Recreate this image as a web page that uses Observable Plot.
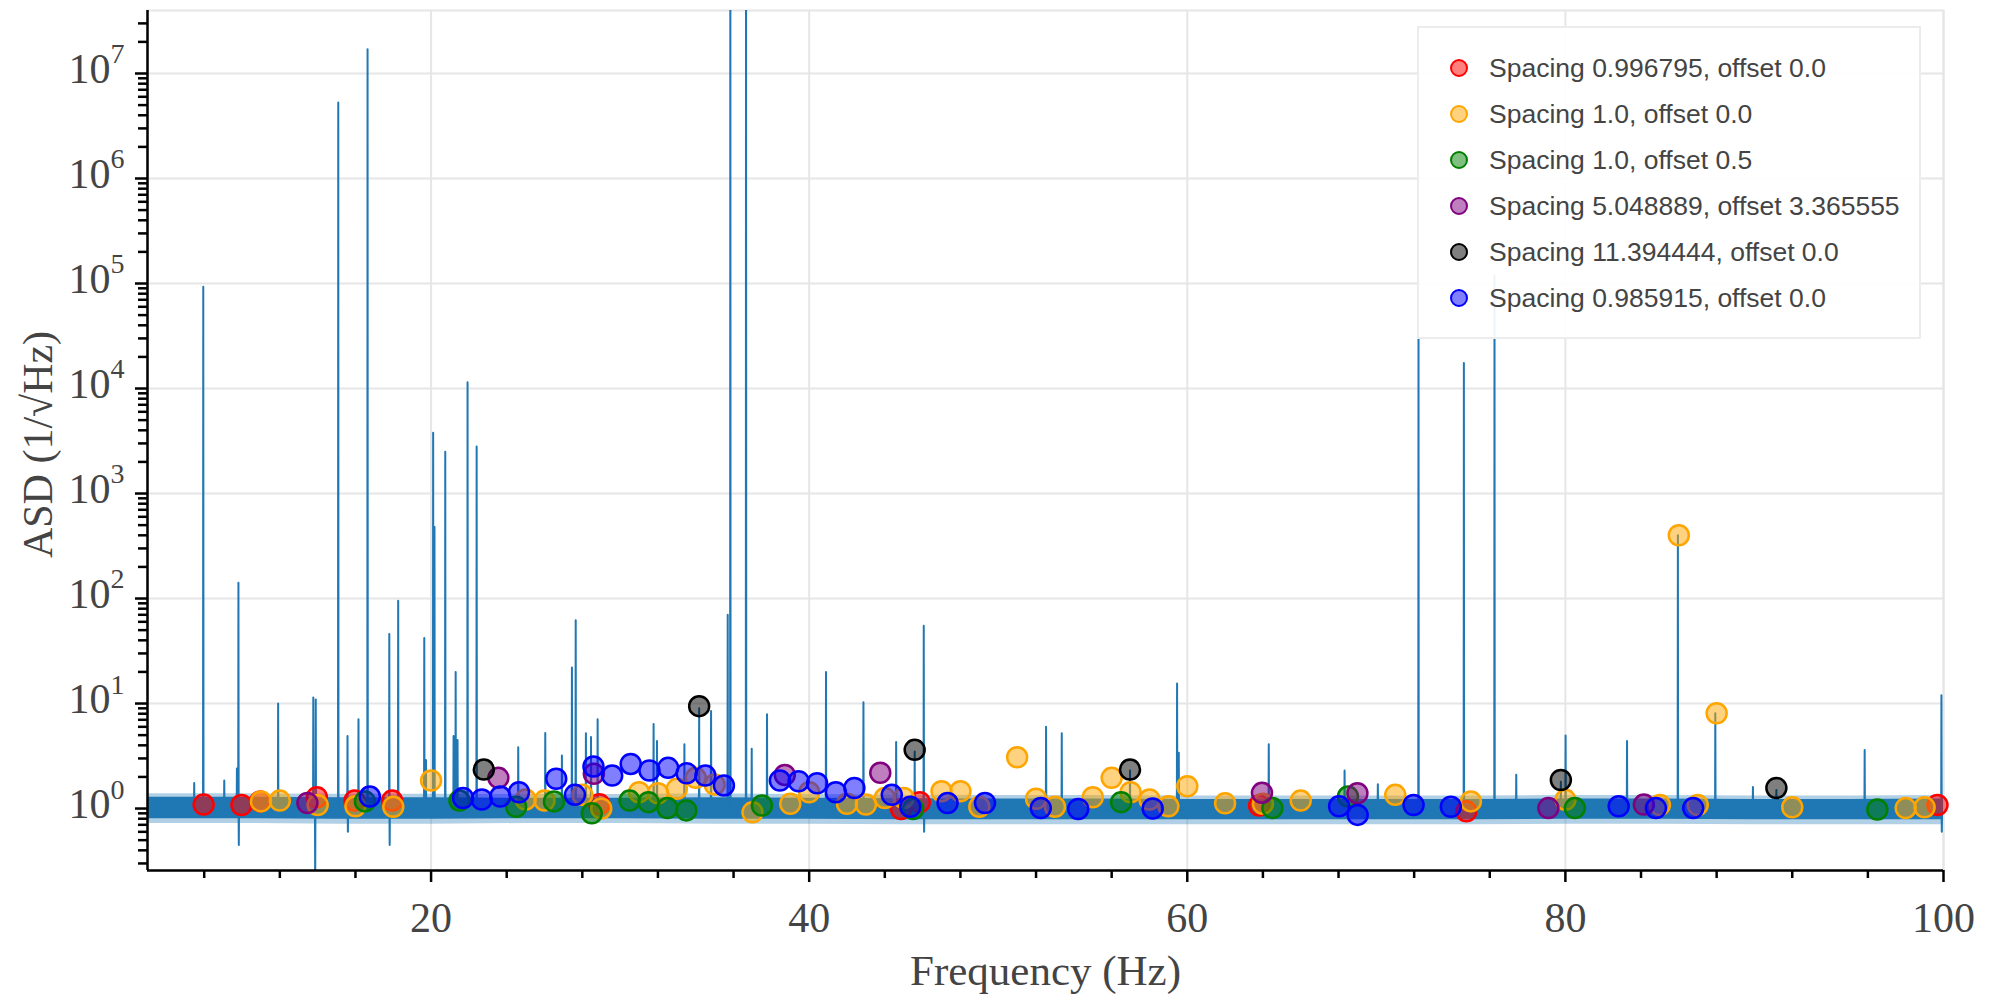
<!DOCTYPE html>
<html><head><meta charset="utf-8">
<script src="https://cdn.jsdelivr.net/npm/d3@7"></script>
<script src="https://cdn.jsdelivr.net/npm/@observablehq/plot@0.6"></script>
<style>
body{margin:0;background:#fff;}
#wrap{position:relative;width:2000px;height:1000px;background:#fff;}
#legend{position:absolute;left:1417px;top:26px;width:504px;height:313px;background:rgba(255,255,255,0.92);border:2px solid #ececec;box-sizing:border-box;font-family:"Liberation Sans",Arial,sans-serif;font-size:26.5px;color:#444;}
.row{position:absolute;left:0;height:46px;display:flex;align-items:center;white-space:nowrap;}
.row svg{margin-left:30px;margin-right:20px;}
</style></head><body><div id="wrap"></div>
<script>
// ---- spectrum (ASD) ----
const spikeFreq = [7.47,7.95,9.06,9.73,9.81,11.91,13.77,13.9,15.09,15.58,16.16,16.64,17.79,18.26,19.64,19.73,20.11,20.18,20.75,21.19,21.3,21.4,21.93,22.41,24.61,26.04,26.92,27.45,27.65,28.19,28.46,28.81,31.77,31.95,33.4,34.18,34.81,35.69,35.83,36.66,36.96,37.77,40.89,42.87,44.6,45.58,46.06,52.53,53.36,56.97,59.46,59.55,64.31,68.32,70.08,72.23,74.63,76.25,77.4,79.76,80.01,83.26,85.95,87.93,89.92,91.16,95.83,99.89];
const spikePeak = [1.75,9.3e4,1.85,2.4,141,10,11.4,10.9,5.3e6,4.9,7.1,1.7e7,46,95,42,2.9,3800,480,2500,4.9,20,4.5,11500,2800,3.84,5.25,3.2,22,62,5.2,4.8,7.1,6.4,4.4,4.1,9,8.5,70,1e9,1e9,3.7,7.9,20,10.3,4.3,3.5,55,6.0,5.2,2.3,15.5,3.4,4.1,2.3,1.7,3e4,1.75e4,1.2e5,2.1,1.8,4.96,4.4,400,8.1,1.6,1.5,3.6,12];
const dipFreq = [9.83,13.87,15.6,17.81,46.08,99.91];
const dipLow = [0.45,0.2,0.6,0.45,0.6,0.6];
const bandFreq = [5,10,15,20,25,30,35,40,45,50,55,60,65,70,75,80,85,90,95,100];
const bandHi = [1.28,1.28,1.27,1.27,1.25,1.25,1.27,1.25,1.24,1.23,1.23,1.22,1.22,1.22,1.22,1.23,1.23,1.22,1.22,1.23];
const bandLo = [0.8,0.8,0.79,0.79,0.8,0.8,0.79,0.79,0.78,0.78,0.78,0.78,0.78,0.78,0.78,0.79,0.79,0.78,0.78,0.78];
const fuzzHi = [1.38,1.38,1.37,1.37,1.36,1.36,1.38,1.36,1.34,1.33,1.33,1.32,1.32,1.32,1.32,1.33,1.33,1.32,1.32,1.33];
const fuzzLo = [0.72,0.72,0.71,0.71,0.72,0.72,0.71,0.71,0.7,0.7,0.7,0.7,0.7,0.7,0.7,0.71,0.71,0.7,0.7,0.7];

// ---- comb series ----
const redF = [7.97,9.97,10.96,13.96,15.95,17.94,28.9,44.86,45.85,63.8,74.76,99.68];
const redV = [1.09,1.08,1.17,1.28,1.19,1.19,1.1,0.99,1.15,1.07,0.94,1.08];
const orangeF = [11,12,14,16,18,20,25,26,28,29,31,32,33,34,35,37,39,40,42,43,44,45,47,48,49,51,52,53,55,56,57,58,59,60,62,64,66,71,75,80,85,86,87,88,92,98,99];
const orangeV = [1.17,1.19,1.08,1.05,1.04,1.85,1.22,1.19,1.35,1.0,1.43,1.40,1.54,1.96,1.69,0.92,1.11,1.43,1.11,1.09,1.26,1.26,1.46,1.46,1.04,3.08,1.24,1.04,1.28,1.96,1.43,1.22,1.05,1.63,1.12,1.11,1.19,1.35,1.17,1.21,1.08,400,1.08,8.09,1.03,1.01,1.03];
const greenF = [16.5,21.5,24.5,26.5,28.5,30.5,31.5,32.5,33.5,37.5,45.5,56.5,64.5,68.5,80.5,96.5];
const greenV = [1.17,1.19,1.04,1.17,0.90,1.19,1.15,1.01,0.96,1.07,0.99,1.15,1.01,1.30,1.01,0.98];
const purpleF = [13.46,23.56,28.61,38.71,43.76,63.95,69.0,79.1,84.15];
const purpleV = [1.13,1.96,2.14,2.09,2.19,1.41,1.40,1.01,1.09];
const blackF = [22.79,34.18,45.58,56.97,79.76,91.16];
const blackV = [2.35,9.44,3.62,2.35,1.87,1.57];
const blueF = [16.76,21.69,22.68,23.66,24.65,26.62,27.61,28.59,29.58,30.56,31.55,32.54,33.52,34.51,35.49,38.45,39.44,40.42,41.41,42.39,44.37,45.35,47.32,49.30,52.25,54.23,58.17,68.03,69.01,71.97,73.94,82.82,84.79,86.76];
const blueV = [1.30,1.26,1.22,1.30,1.43,1.92,1.35,2.51,2.06,2.66,2.30,2.44,2.17,2.06,1.66,1.85,1.82,1.74,1.43,1.57,1.35,1.04,1.13,1.13,1.01,0.99,1.0,1.05,0.87,1.08,1.04,1.05,1.01,1.01];

const seriesNames = ["Spacing 0.996795, offset 0.0","Spacing 1.0, offset 0.0","Spacing 1.0, offset 0.5","Spacing 5.048889, offset 3.365555","Spacing 11.394444, offset 0.0","Spacing 0.985915, offset 0.0"];
const seriesColors = ["red","orange","green","purple","black","blue"];
const seriesF = [redF,orangeF,greenF,purpleF,blackF,blueF];
const seriesV = [redV,orangeV,greenV,purpleV,blackV,blueV];

// ---- axes ----
const xDomain = [5,100];
const yDomain = [0.257,3.98e7];
const xMajor = [20,40,60,80,100];
const xMinor = [8,12,16,24,28,32,36,44,48,52,56,64,68,72,76,84,88,92,96];
const decades = [1,10,100,1e3,1e4,1e5,1e6,1e7];
const yMinor = [];
for (const d of [0.1,1,10,100,1e3,1e4,1e5,1e6,1e7]) for (let k=2;k<=9;k++){const v=d*k; if(v>=yDomain[0]&&v<=yDomain[1]) yMinor.push(v);}

// build tables
const events = [];
spikeFreq.forEach((f,i)=>events.push({f, v: spikePeak[i]}));
dipFreq.forEach((f,i)=>events.push({f, v: dipLow[i]}));
events.sort((a,b)=>a.f-b.f);
const lineData = [{f:5,v:1}];
for (const e of events) lineData.push({f:e.f-0.012,v:1},{f:e.f,v:e.v},{f:e.f+0.012,v:1});
lineData.push({f:100,v:1});
const band = bandFreq.map((f,i)=>({f, lo: bandLo[i], hi: bandHi[i], flo: fuzzLo[i], fhi: fuzzHi[i]}));

const serif = "'Liberation Serif','Times New Roman',serif";
const grid = "#e6e6e6";

const marks = [
  Plot.frame({stroke: grid, strokeWidth: 2}),
  Plot.gridY(decades, {stroke: grid, strokeOpacity: 1, strokeWidth: 2}),
  Plot.gridX(xMajor, {stroke: grid, strokeOpacity: 1, strokeWidth: 2}),
  Plot.areaY(band, {x: "f", y1: "flo", y2: "fhi", fill: "#1f77b4", fillOpacity: 0.35}),
  Plot.areaY(band, {x: "f", y1: "lo", y2: "hi", fill: "#1f77b4"}),
  Plot.line(lineData, {x: "f", y: "v", stroke: "#1f77b4", strokeWidth: 2, clip: true}),
];
seriesNames.forEach((name,i)=>{
  const pts = seriesF[i].map((f,j)=>({f, v: seriesV[i][j]}));
  marks.push(Plot.dot(pts, {x: "f", y: "v", r: 10, fill: seriesColors[i], fillOpacity: 0.5, stroke: seriesColors[i], strokeWidth: 2.5}));
});
marks.push(
  Plot.ruleX([xDomain[0]], {stroke: "black", strokeWidth: 2.5}),
  Plot.ruleY([yDomain[0]], {stroke: "black", strokeWidth: 2.5}),
  Plot.axisY({ticks: yMinor, tickSize: 9, tickFormat: () => "", strokeWidth: 2.5, label: null}),
  Plot.axisY({ticks: decades, tickSize: 12, tickFormat: () => "", strokeWidth: 2.5, label: null}),
  Plot.axisX({ticks: xMinor, tickSize: 8, tickFormat: () => "", strokeWidth: 2.5, label: null}),
  Plot.axisX({ticks: xMajor, tickSize: 12, tickFormat: () => "", strokeWidth: 2.5, label: null}),
  Plot.text(decades, {frameAnchor: "left", y: d => d, text: () => "10", textAnchor: "end", lineAnchor: "middle", dx: -37, dy: -4, fontSize: 42, fontFamily: serif, fill: "#444"}),
  Plot.text(decades, {frameAnchor: "left", y: d => d, text: d => String(Math.round(Math.log10(d))), textAnchor: "start", lineAnchor: "middle", dx: -37, dy: -19, fontSize: 28, fontFamily: serif, fill: "#444"}),
  Plot.text(xMajor, {x: d => d, frameAnchor: "bottom", lineAnchor: "middle", textAnchor: "middle", dy: 48, text: d => String(d), fontSize: 42, fontFamily: serif, fill: "#444"}),
  Plot.text(["Frequency (Hz)"], {frameAnchor: "bottom", lineAnchor: "middle", textAnchor: "middle", dy: 101, fontSize: 43, fontFamily: serif, fill: "#444"}),
  Plot.text(["ASD (1/√Hz)"], {frameAnchor: "left", textAnchor: "middle", lineAnchor: "middle", dx: -109, dy: 4, rotate: -90, fontSize: 42, fontFamily: serif, fill: "#444"})
);

const chart = Plot.plot({
  width: 2000, height: 1000,
  marginLeft: 147, marginRight: 57, marginTop: 10, marginBottom: 130,
  x: {domain: xDomain, label: null},
  y: {type: "log", domain: yDomain, label: null},
  style: {background: "#fff", overflow: "visible"},
  marks
});
const wrap = document.getElementById("wrap");
wrap.appendChild(chart);

const legend = document.createElement("div");
legend.id = "legend";
seriesNames.forEach((name,i)=>{
  const row = document.createElement("div");
  row.className = "row";
  row.style.top = (42 + 46*i - 23 - 2) + "px";
  row.innerHTML = `<svg width="20" height="20"><circle cx="10" cy="10" r="8" fill="${seriesColors[i]}" fill-opacity="0.5" stroke="${seriesColors[i]}" stroke-width="2"/></svg><span>${name}</span>`;
  legend.appendChild(row);
});
wrap.appendChild(legend);
</script></body></html>
